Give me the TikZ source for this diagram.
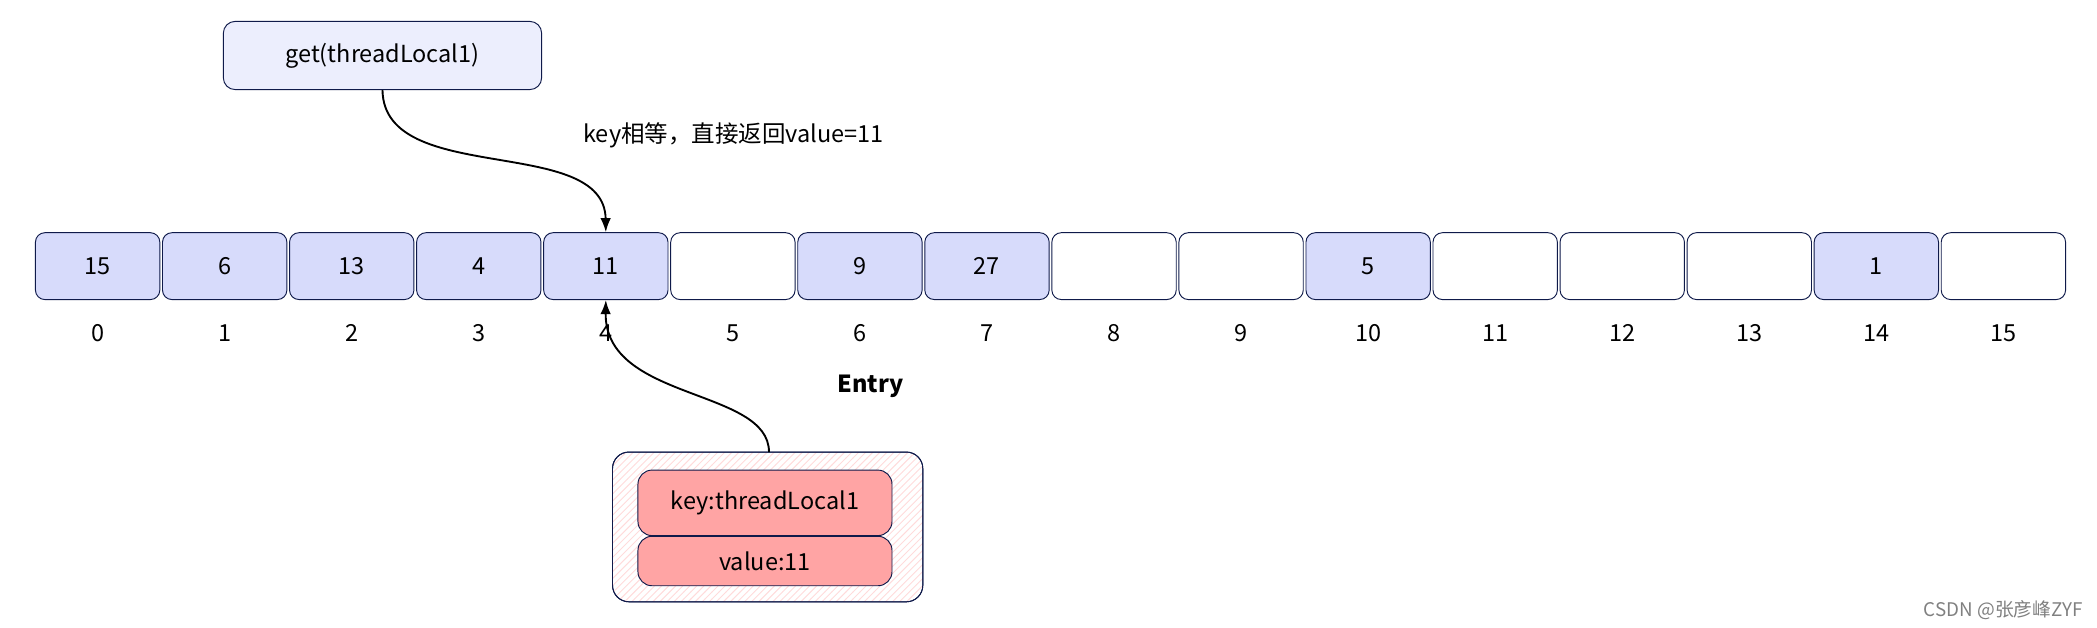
\documentclass[tikz,border=0pt]{standalone}
\usepackage{fontspec}
\setmainfont{Noto Sans CJK SC}
\usetikzlibrary{arrows.meta, patterns}
\definecolor{cellblue}{HTML}{D7DBFB}
\definecolor{getblue}{HTML}{ECEEFD}
\definecolor{linenavy}{HTML}{0F1A4A}
\definecolor{entryred}{HTML}{FFA4A4}
\tikzstyle{cell} = [rectangle, rounded corners=4pt, minimum width=1.86cm, minimum height=1cm, draw=linenavy, fill=cellblue, text centered, inner sep=0pt]
\tikzstyle{empty} = [cell, fill=white]
\tikzstyle{idx} = [text centered]
\tikzstyle{kv} = [rectangle, rounded corners=6pt, minimum width=3.8cm, draw=linenavy, fill=entryred, text centered, inner sep=0pt]
\tikzstyle{arrow} = [thick, -{Latex[length=6pt]}]

\begin{document}
\begin{tikzpicture}[x=0.02cm, y=-0.02cm, font=\fontsize{10}{12}\selectfont]
\useasboundingbox (0,0) rectangle (1568,469);

\node (get) [rectangle, rounded corners=5pt, minimum width=4.76cm, minimum height=1.02cm, draw=linenavy, fill=getblue] at (286,41.5) {get(threadLocal1)};

% array slots
\foreach \v [count=\i from 0] in {15,6,13,4,11,,9,27,,,5,,,,1,} {
  \ifx\v\empty
    \node (c\i) [empty] at (73+95*\i,199) {};
  \else
    \node (c\i) [cell] at (73+95*\i,199) {\v};
  \fi
  \node (n\i) [idx] at (73+95*\i,249) {\i};
}

\node (msg) [anchor=west] at (430,101) {key相等，直接返回value=11};
\node (entrylbl) [font=\fontsize{10}{12}\selectfont\bfseries] at (651,289) {Entry};

\draw [draw=linenavy, rounded corners=7pt, pattern=north east lines, pattern color=entryred!40] (458,338) rectangle (690,450);
\draw [draw=linenavy, rounded corners=7pt] (458,338) rectangle (690,450);
\coordinate (entry) at (575,338);
\node (key) [kv, minimum height=0.98cm] at (572,376) {key:threadLocal1};
\node (val) [kv, minimum height=0.74cm] at (572,419.5) {value:11};

\draw [arrow] (get.south) .. controls (287,140) and (452,100) .. (c4.north);
\draw [arrow] (entry) .. controls (575,290) and (452,300) .. (c4.south);

\node (mark) [text=gray, font=\fontsize{8}{10}\selectfont] at (1498,456) {CSDN @张彦峰ZYF};
\end{tikzpicture}
\end{document}
